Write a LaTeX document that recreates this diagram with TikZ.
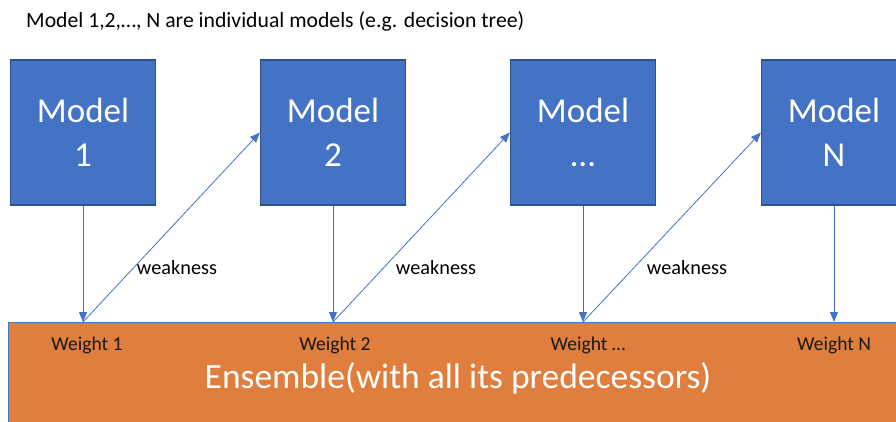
\documentclass[tikz,border=0pt]{standalone}
\usepackage{fontspec}
\setmainfont{Carlito}
\usetikzlibrary{arrows.meta,calc}
\definecolor{mblue}{HTML}{4472C4}
\definecolor{mbluedark}{HTML}{2F528F}
\definecolor{morange}{HTML}{E07E3E}
\begin{document}
\begin{tikzpicture}[x=1pt,y=-1pt,
  modelbox/.style={draw=mbluedark,line width=1.2pt,fill=mblue,minimum width=145pt,minimum height=145pt,inner sep=0pt,text=white,font=\fontsize{35}{44}\selectfont,align=center},
  conn/.style={draw=mblue,line width=0.8pt,-{Triangle[length=10pt,width=8pt]}},
  lbl/.style={font=\fontsize{20.3}{24}\selectfont,text=black,inner sep=0pt},
  wlbl/.style={font=\fontsize{19.6}{24}\selectfont,text=black!90,inner sep=0pt}]
\useasboundingbox (0,0) rectangle (896,421);
\clip (0,0) rectangle (896,421);
\fill[white] (0,0) rectangle (896,421);
\node[font=\fontsize{21.7}{26}\selectfont,inner sep=0pt,anchor=base west] (title) at (26,27) {Model 1,2,\ldots, N are individual models (e.g. decision tree)};
\node[modelbox] (m1) at (83,132.5) {Model\\1};
\node[modelbox] (m2) at (333,132.5) {Model\\2};
\node[modelbox] (m3) at (583,132.5) {Model\\\ldots};
\node[modelbox] (m4) at (834,132.5) {Model\\N};
\node[draw=mblue,line width=0.8pt,fill=morange,minimum width=900pt,minimum height=110pt,anchor=north west,inner sep=0pt] (ens) at (8,322) {};
\coordinate (w1) at (m1.south |- ens.north);
\coordinate (w2) at (m2.south |- ens.north);
\coordinate (w3) at (m3.south |- ens.north);
\coordinate (w4) at (m4.south |- ens.north);
\draw[conn] (m1.south) -- (w1);
\draw[conn] (m2.south) -- (w2);
\draw[conn] (m3.south) -- (w3);
\draw[conn] (m4.south) -- (w4);
\draw[conn] (w1) -- (m2.west);
\draw[conn] (w2) -- (m3.west);
\draw[conn] (w3) -- (m4.west);
\node[lbl,anchor=base] (k1) at (177,274) {weakness};
\node[lbl,anchor=base] (k2) at (436,274) {weakness};
\node[lbl,anchor=base] (k3) at (687,274) {weakness};
\node[wlbl,anchor=base] (g1) at (87,350) {Weight 1};
\node[wlbl,anchor=base] (g2) at (335,350) {Weight 2};
\node[wlbl,anchor=base] (g3) at (588,350) {Weight \ldots};
\node[wlbl,anchor=base] (g4) at (834,350) {Weight N};
\node[font=\fontsize{35.5}{42}\selectfont,text=white,inner sep=0pt,anchor=base] (et) at (458,388) {Ensemble(with all its predecessors)};
\end{tikzpicture}
\end{document}
